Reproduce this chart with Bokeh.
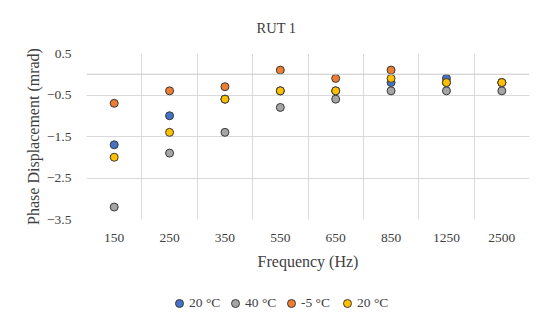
from bokeh.plotting import figure
from bokeh.layouts import column
from bokeh.models import (Range1d, FixedTicker, Span, Legend, LegendItem)
from bokeh.embed import file_html
from bokeh.resources import INLINE

freqs = ["150", "250", "350", "550", "650", "850", "1250", "2500"]
s_20a = [-1.7, -1.0, -0.6, -0.4, -0.4, -0.2, -0.1, -0.2]
s_40 = [-3.2, -1.9, -1.4, -0.8, -0.6, -0.4, -0.4, -0.4]
s_m5 = [-0.7, -0.4, -0.3, 0.1, -0.1, 0.1, -0.2, -0.2]
s_20b = [-2.0, -1.4, -0.6, -0.4, -0.4, -0.1, -0.2, -0.2]
y_ticks = [0.5, -0.5, -1.5, -2.5, -3.5]

series = [
    ("20 °C", s_20a, "#4472C4"),
    ("40 °C", s_40, "#A5A5A5"),
    ("-5 °C", s_m5, "#ED7D31"),
    ("20 °C", s_20b, "#FFC000"),
]

FONT = "Liberation Serif"
TXT = "#404040"
EDGE = "#3A3A3A"

xs = [i + 0.5 for i in range(len(freqs))]

p = figure(width=534, height=285, output_backend="svg", toolbar_location=None,
           x_range=Range1d(0, len(freqs)), y_range=Range1d(-3.5, 0.5),
           min_border_left=86, min_border_right=5, min_border_top=53,
           min_border_bottom=66)
p.outline_line_color = None
p.background_fill_color = "white"
p.border_fill_color = "white"

p.title.text = "RUT 1"
p.title.align = "left"
p.title.offset = 170
p.title.text_font = FONT
p.title.text_font_size = "14.5px"
p.title.text_font_style = "normal"
p.title.text_color = TXT
p.title.standoff = 35

# axes
p.xaxis.ticker = FixedTicker(ticks=xs)
p.xaxis.major_label_overrides = {x: f for x, f in zip(xs, freqs)}
p.yaxis.ticker = FixedTicker(ticks=y_ticks)
for ax in (p.xaxis[0], p.yaxis[0]):
    ax.axis_line_color = None
    ax.major_tick_line_color = None
    ax.minor_tick_line_color = None
    ax.major_tick_in = 0
    ax.major_tick_out = 0
    ax.major_label_text_font = FONT
    ax.major_label_text_font_size = "13.5px"
    ax.major_label_text_color = TXT
    ax.axis_label_text_font = FONT
    ax.axis_label_text_font_size = "16px"
    ax.axis_label_text_font_style = "normal"
    ax.axis_label_text_color = TXT
p.xaxis.axis_label = "Frequency (Hz)"
p.yaxis.axis_label = "Phase Displacement (mrad)"
p.xaxis.major_label_standoff = 14
p.yaxis.major_label_standoff = 15
p.xaxis.axis_label_standoff = 8
p.yaxis.axis_label_standoff = 2

# grids
p.xgrid.ticker = FixedTicker(ticks=list(range(len(freqs) + 1)))
p.ygrid.ticker = FixedTicker(ticks=y_ticks)
p.xgrid.grid_line_color = "#D9D9D9"
p.ygrid.grid_line_color = "#D9D9D9"
p.add_layout(Span(location=0, dimension="width", line_color="#C8C8C8", line_width=1.2))

for name, vals, col in series:
    p.scatter(xs, vals, size=8, fill_color=col, line_color=EDGE, line_width=1)

# legend strip below the chart (its renderers hold the same data, scrolled out of view)
lg = figure(width=534, height=30, output_backend="svg", toolbar_location=None,
            x_axis_location=None, y_axis_location=None,
            x_range=Range1d(100, 101), y_range=Range1d(100, 101),
            min_border_left=0, min_border_right=0, min_border_top=0, min_border_bottom=0)
lg.grid.visible = False
lg.outline_line_color = None
lg.border_fill_color = "white"
lg.background_fill_color = "white"
items = []
for name, vals, col in series:
    r = lg.scatter(xs, vals, size=8, fill_color=col, line_color=EDGE, line_width=1)
    items.append(LegendItem(label=name, renderers=[r]))
legend = Legend(items=items, orientation="horizontal", location=(83, 2),
                glyph_width=20, glyph_height=20, label_standoff=0, spacing=4,
                label_width=32, padding=0, margin=0, border_line_color=None,
                background_fill_alpha=0,
                label_text_font=FONT, label_text_font_size="13.5px", label_text_color=TXT)
lg.add_layout(legend, "center")

layout = column(p, lg, spacing=0)
open("out.html", "w").write(file_html(layout, INLINE))
